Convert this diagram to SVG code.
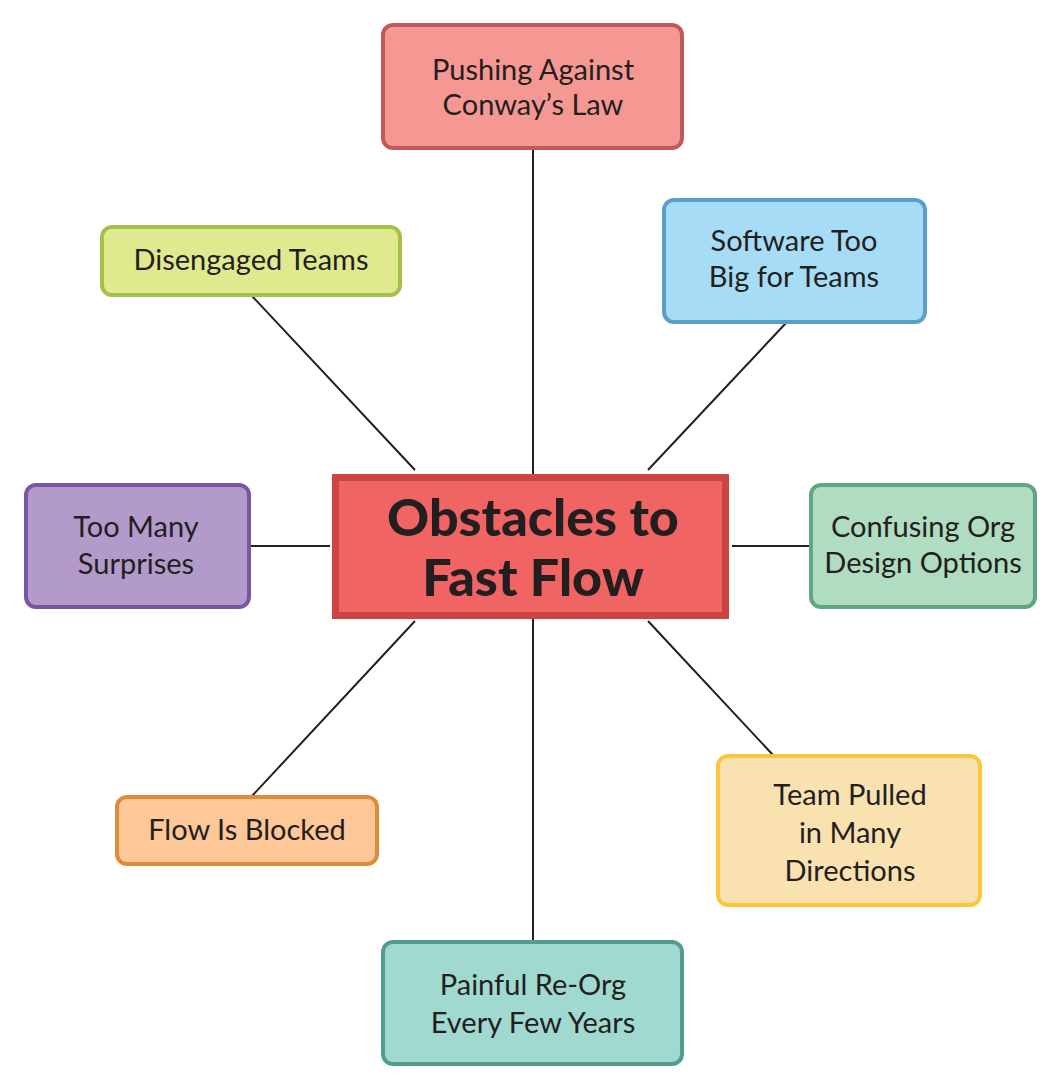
<svg xmlns="http://www.w3.org/2000/svg" width="1061" height="1091" viewBox="0 0 1061 1091">
<style>
.box{stroke-width:4}
.lbl{font-family:Lato,"Open Sans",sans-serif;font-size:29px;fill:#231f20;text-anchor:middle}
.ctr{font-family:Lato,"Open Sans",sans-serif;font-size:52px;font-weight:900;fill:#231f20;text-anchor:middle}
.conn line{stroke:#231f20;stroke-width:2}
</style>
<rect width="1061" height="1091" fill="#ffffff"/>
<g id="connectors" class="conn">
<line x1="533" y1="149" x2="533" y2="474"/>
<line x1="533" y1="619" x2="533" y2="941"/>
<line x1="252" y1="296" x2="415" y2="470"/>
<line x1="786" y1="323" x2="648" y2="470"/>
<line x1="250" y1="546" x2="330" y2="546"/>
<line x1="732" y1="546" x2="810" y2="546"/>
<line x1="415" y1="621" x2="252" y2="796"/>
<line x1="648" y1="621" x2="773" y2="755"/>
</g>
<g id="center">
<rect x="335.5" y="477.5" width="390" height="138" fill="#f06464" stroke="#cc4444" stroke-width="7"/>
<text class="ctr" x="533" y="536">Obstacles to</text>
<text class="ctr" x="533" y="596">Fast Flow</text>
</g>
<g id="conway">
<rect class="box" x="383" y="25" width="299" height="123" rx="10" fill="#f59893" stroke="#c05a5a"/>
<text class="lbl" x="533" y="80">Pushing Against</text>
<text class="lbl" x="533" y="115">Conway’s Law</text>
</g>
<g id="software">
<rect class="box" x="664" y="200" width="261" height="122" rx="10" fill="#a7dcf7" stroke="#5a9fcc"/>
<text class="lbl" x="794" y="251">Software Too</text>
<text class="lbl" x="794" y="287">Big for Teams</text>
</g>
<g id="disengaged">
<rect class="box" x="102" y="227" width="298" height="68" rx="10" fill="#e1e98f" stroke="#a3c14a"/>
<text class="lbl" x="251" y="270">Disengaged Teams</text>
</g>
<g id="surprises">
<rect class="box" x="26" y="485" width="223" height="122" rx="10" fill="#b29bcb" stroke="#7a55a3"/>
<text class="lbl" x="136" y="537">Too Many</text>
<text class="lbl" x="136" y="574">Surprises</text>
</g>
<g id="confusing">
<rect class="box" x="811" y="485" width="224" height="122" rx="10" fill="#b0dcc1" stroke="#5fa783"/>
<text class="lbl" x="923" y="537">Confusing Org</text>
<text class="lbl" x="923" y="573">Design Options</text>
</g>
<g id="flow">
<rect class="box" x="117" y="797" width="260" height="67" rx="10" fill="#fdc797" stroke="#de8c3c"/>
<text class="lbl" x="247" y="840">Flow Is Blocked</text>
</g>
<g id="pulled">
<rect class="box" x="718" y="756" width="262" height="149" rx="10" fill="#fae2b0" stroke="#fcc63c"/>
<text class="lbl" x="850" y="805">Team Pulled</text>
<text class="lbl" x="850" y="843">in Many</text>
<text class="lbl" x="850" y="881">Directions</text>
</g>
<g id="reorg">
<rect class="box" x="383" y="942" width="299" height="122" rx="10" fill="#9fd9d0" stroke="#529c90"/>
<text class="lbl" x="533" y="995">Painful Re-Org</text>
<text class="lbl" x="533" y="1033">Every Few Years</text>
</g>
</svg>
